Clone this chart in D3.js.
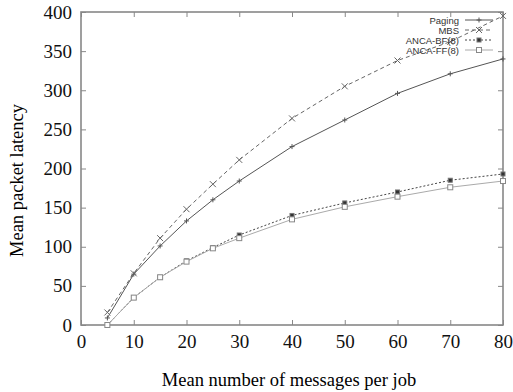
<!DOCTYPE html>
<html>
<head>
<meta charset="utf-8">
<script src="https://cdn.jsdelivr.net/npm/d3@7"></script>
<style>
  body { margin: 0; background: #fff; }
  svg { display: block; }
  .tick text { font-family: "Liberation Serif", "Times New Roman", serif; font-size: 19px; fill: #111; }
</style>
</head>
<body>
<div id="chart"></div>
<script>
// data
let msgs = [5, 10, 15, 20, 25, 30, 40, 50, 60, 70, 80];
let paging = [9, 65, 101, 133, 160, 184, 228, 262, 296, 321, 340];
let mbs = [16, 66, 111, 148, 180, 211, 264, 305, 338, 362, 395];
let anca_bf = [0, 35, 61, 82, 99, 115, 140, 156, 170, 185, 193];
let anca_ff = [0, 35, 61, 81, 98, 111, 135, 151, 164, 176, 184];
let x_ticks = [0, 10, 20, 30, 40, 50, 60, 70, 80];
let y_ticks = [0, 50, 100, 150, 200, 250, 300, 350, 400];

let series = [
    {name: "Paging", values: paging, dash: null, color: "#555", mark: "plus"},
    {name: "MBS", values: mbs, dash: "4,3", color: "#666", mark: "cross"},
    {name: "ANCA-BF(8)", values: anca_bf, dash: "2,2", color: "#444", mark: "fsquare"},
    {name: "ANCA-FF(8)", values: anca_ff, dash: null, color: "#aaa", mark: "osquare"}
];

let width = 513, height = 392;
let margin = {left: 81, right: 10, top: 12, bottom: 67};

let svg = d3.select("#chart").append("svg")
    .attr("width", width)
    .attr("height", height);

let x = d3.scaleLinear().domain([0, 80]).range([margin.left, width - margin.right]);
let y = d3.scaleLinear().domain([0, 400]).range([height - margin.bottom, margin.top]);

// axes with inward ticks, mirrored
let frame_color = "#888";
let gx = svg.append("g")
    .attr("transform", "translate(0," + y(0) + ")")
    .call(d3.axisBottom(x).tickValues(x_ticks).tickSizeInner(-5).tickSizeOuter(0).tickPadding(9));
let gy = svg.append("g")
    .attr("transform", "translate(" + x(0) + ",0)")
    .call(d3.axisLeft(y).tickValues(y_ticks).tickSizeInner(-5).tickSizeOuter(0).tickPadding(9));
let gx2 = svg.append("g")
    .attr("transform", "translate(0," + y(400) + ")")
    .call(d3.axisTop(x).tickValues(x_ticks).tickSizeInner(-5).tickSizeOuter(0).tickFormat(""));
let gy2 = svg.append("g")
    .attr("transform", "translate(" + x(80) + ",0)")
    .call(d3.axisRight(y).tickValues(y_ticks).tickSizeInner(-5).tickSizeOuter(0).tickFormat(""));

[gx, gy, gx2, gy2].forEach(function (g) {
    g.select(".domain").remove();
    g.selectAll(".tick line").attr("stroke", frame_color).attr("stroke-width", 1);
});
gx.selectAll(".tick text").attr("dy", "0.75em");

svg.append("rect")
    .attr("x", x(0)).attr("y", y(400))
    .attr("width", x(80) - x(0)).attr("height", y(0) - y(400))
    .attr("fill", "none")
    .attr("stroke", frame_color)
    .attr("stroke-width", 1.6);

// axis titles
svg.append("text")
    .attr("x", (x(0) + x(80)) / 2 - 3)
    .attr("y", 386)
    .attr("text-anchor", "middle")
    .style("font-family", "Liberation Serif, serif")
    .style("font-size", "18.5px")
    .text("Mean number of messages per job");

svg.append("text")
    .attr("transform", "translate(23," + ((y(0) + y(400)) / 2 + 12) + ") rotate(-90)")
    .attr("text-anchor", "middle")
    .style("font-family", "Liberation Serif, serif")
    .style("font-size", "18.5px")
    .text("Mean packet latency");

// markers
function draw_mark(g, kind, cx, cy, color) {
    if (kind == "plus") {
        g.append("path").attr("d", "M" + (cx - 2.5) + "," + cy + "h5M" + cx + "," + (cy - 2.5) + "v5")
            .attr("stroke", color).attr("stroke-width", 1);
    } else if (kind == "cross") {
        g.append("path").attr("d", "M" + (cx - 3) + "," + (cy - 3) + "l6,6M" + (cx - 3) + "," + (cy + 3) + "l6,-6")
            .attr("stroke", color).attr("stroke-width", 1);
    } else if (kind == "fsquare") {
        g.append("rect").attr("x", cx - 2).attr("y", cy - 2).attr("width", 4).attr("height", 4)
            .attr("fill", "#333").attr("stroke", "#777").attr("stroke-width", 1);
    } else {
        g.append("rect").attr("x", cx - 2.5).attr("y", cy - 2.5).attr("width", 5).attr("height", 5)
            .attr("fill", "#fff").attr("stroke", "#888").attr("stroke-width", 1);
    }
}

let line = d3.line()
    .x(function (d) { return x(d[0]); })
    .y(function (d) { return y(d[1]); });

series.forEach(function (s) {
    let pts = msgs.map(function (m, i) { return [m, s.values[i]]; });
    let g = svg.append("g");
    g.append("path")
        .datum(pts)
        .attr("d", line)
        .attr("fill", "none")
        .attr("stroke", s.color)
        .attr("stroke-width", 1)
        .attr("stroke-dasharray", s.dash);
    pts.forEach(function (p) { draw_mark(g, s.mark, x(p[0]), y(p[1]), s.color); });
});

// legend
let leg = svg.append("g");
series.forEach(function (s, i) {
    let ly = 20 + i * 10;
    leg.append("text")
        .attr("x", 459).attr("y", ly + 3.5)
        .attr("text-anchor", "end")
        .style("font-family", "Liberation Sans, Arial, sans-serif")
        .style("font-size", "9.5px")
        .attr("fill", "#333")
        .text(s.name);
    leg.append("line")
        .attr("x1", 465).attr("x2", 493).attr("y1", ly).attr("y2", ly)
        .attr("stroke", s.color).attr("stroke-width", 1)
        .attr("stroke-dasharray", s.dash);
    draw_mark(leg, s.mark, 479, ly, s.color);
});
</script>
</body>
</html>
